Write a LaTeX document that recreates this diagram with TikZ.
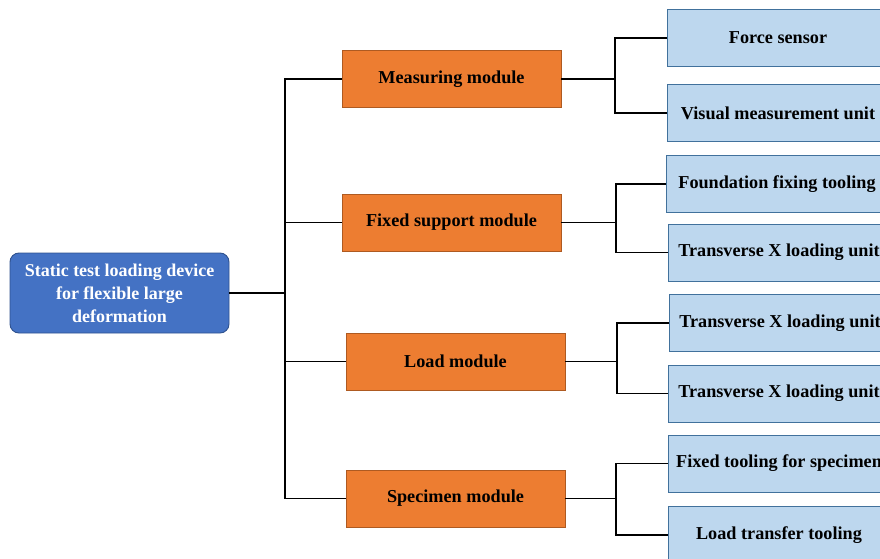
\documentclass[tikz,border=0pt]{standalone}
\usepackage{fontspec}
\setmainfont{Liberation Serif}
\definecolor{rootfill}{HTML}{4472C4}
\definecolor{rootline}{HTML}{2F528F}
\definecolor{modfill}{HTML}{ED7D31}
\definecolor{modline}{HTML}{AE5A21}
\definecolor{leaffill}{HTML}{BDD7EE}
\definecolor{leafline}{HTML}{41719C}
\tikzset{
  rootbox/.style={draw=rootline, fill=rootfill, rounded corners=9pt, line width=0.9pt,
    minimum width=219pt, minimum height=80pt, align=center,
    text=white, font=\fontsize{18}{23}\selectfont\bfseries, inner sep=0pt},
  modbox/.style={draw=modline, fill=modfill, line width=0.8pt,
    minimum width=219pt, minimum height=57pt, inner sep=0pt,
    font=\fontsize{18.2}{20}\selectfont\bfseries},
  leafbox/.style={draw=leafline, fill=leaffill, line width=0.8pt,
    minimum width=222pt, minimum height=57pt, inner sep=0pt,
    font=\fontsize{18.2}{20}\selectfont\bfseries},
  link/.style={draw=black, line width=1.1pt},
}
\begin{document}
\begin{tikzpicture}[x=1pt, y=-1pt]
\useasboundingbox (0,0) rectangle (880,559);
\clip (0,0) rectangle (880,559);

% root
\node[rootbox] (root) at (119.5,293) {Static test loading device\\for flexible large\\deformation};

% modules
\node[modbox] (m1) at (451.5,79) {Measuring module};
\node[modbox] (m2) at (451.5,222.5) {Fixed support module};
\node[modbox] (m3) at (455.5,361.5) {Load module};
\node[modbox] (m4) at (455.5,498.5) {Specimen module};

% leaves
\node[leafbox] (a1) at (778,38) {Force sensor};
\node[leafbox] (a2) at (778,113) {Visual measurement unit};
\node[leafbox] (b1) at (777,184) {Foundation fixing tooling};
\node[leafbox] (b2) at (779,252.5) {Transverse X loading unit};
\node[leafbox] (c1) at (780,323) {Transverse X loading unit};
\node[leafbox] (c2) at (779,393.5) {Transverse X loading unit};
\node[leafbox] (d1) at (779,463.5) {Fixed tooling for specimen};
\node[leafbox] (d2) at (779,535) {Load transfer tooling};

% trunk from root to modules
\coordinate (j0) at (285,293);
\draw[link] (root.east) -- (j0);
\draw[link] (m1.west) -- (m1.west -| j0) -- (m4.west -| j0) -- (m4.west);
\draw[link] (m2.west) -- (m2.west -| j0);
\draw[link] (m3.west) -- (m3.west -| j0);

% module to leaves
\coordinate (ja) at (615,0);
\coordinate (jb) at (616,0);
\coordinate (jc) at (617,0);
\coordinate (jd) at (616,0);
\draw[link] (m1.east) -- (m1.east -| ja);
\draw[link] (a1.west) -- (a1.west -| ja) -- (a2.west -| ja) -- (a2.west);
\draw[link] (m2.east) -- (m2.east -| jb);
\draw[link] (b1.west) -- (b1.west -| jb) -- (b2.west -| jb) -- (b2.west);
\draw[link] (m3.east) -- (m3.east -| jc);
\draw[link] (c1.west) -- (c1.west -| jc) -- (c2.west -| jc) -- (c2.west);
\draw[link] (m4.east) -- (m4.east -| jd);
\draw[link] (d1.west) -- (d1.west -| jd) -- (d2.west -| jd) -- (d2.west);
\end{tikzpicture}
\end{document}
